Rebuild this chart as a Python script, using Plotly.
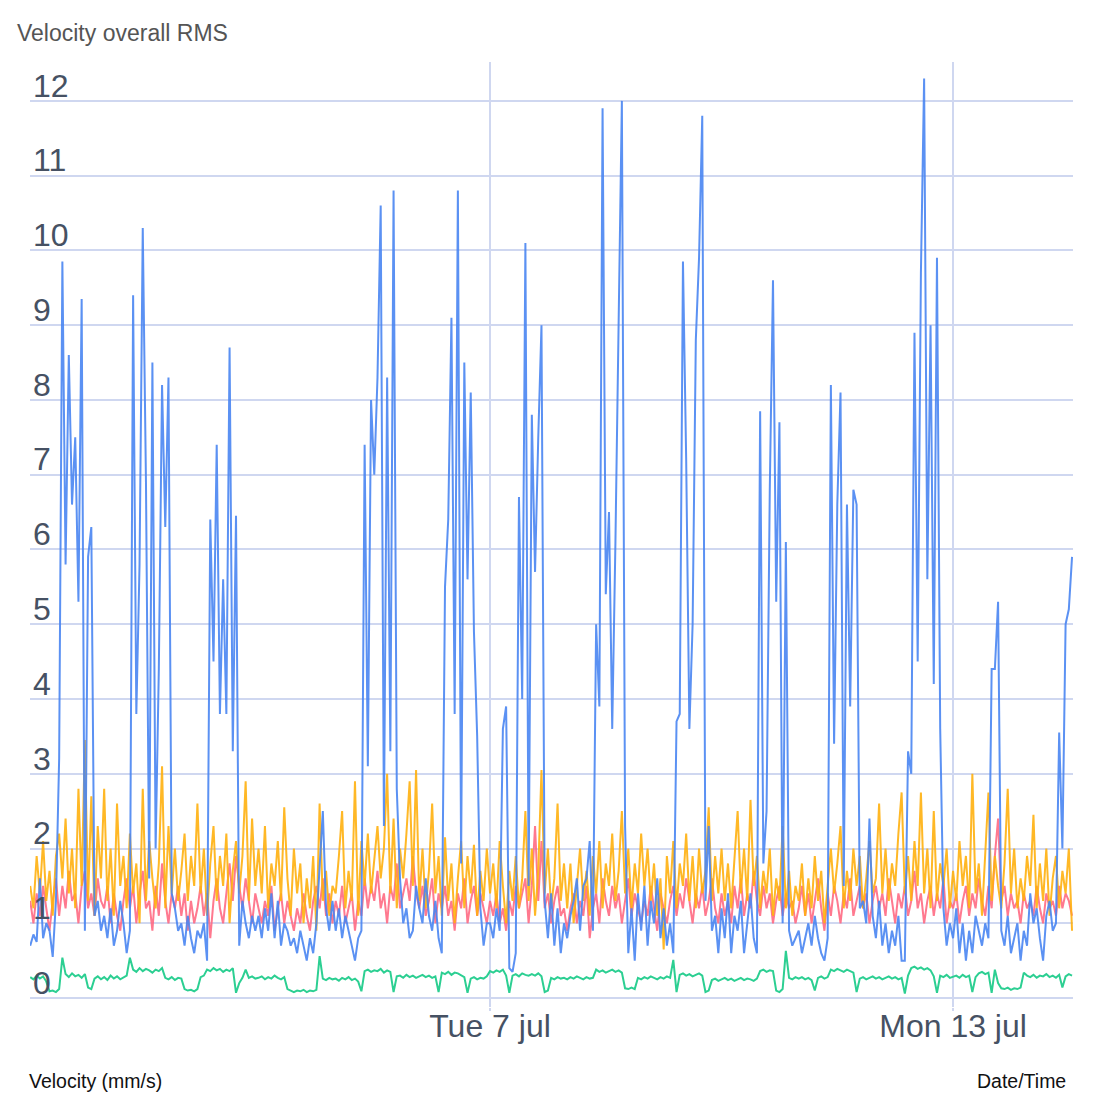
import pandas as pd
import plotly.graph_objects as go

# hourly samples, Jul 1 01:00 -> Jul 14 13:00 (one row per day)
blue = [
    0.7, 0.85, 0.75, 1.6, 0.8, 1.0, 0.9, 0.55, 1.3, 3.2, 9.85, 5.8, 8.6, 6.6, 7.5, 5.3, 9.35, 0.9, 5.9, 6.3, 1.1, 1.3, 0.9,
    1.1, 0.8, 1.2, 0.7, 0.9, 1.3, 1.0, 0.6, 0.9, 9.4, 3.8, 5.8, 10.3, 6.9, 1.6, 8.5, 2.0, 4.4, 8.2, 6.3, 8.3, 1.4, 1.2, 0.9,
    1.0, 0.7, 1.1, 0.8, 0.6, 0.9, 0.8, 1.0, 0.5, 6.4, 4.5, 7.4, 3.8, 5.6, 3.8, 8.7, 3.3, 6.45, 0.7, 1.3, 1.0, 0.8, 1.1, 0.9,
    1.1, 0.8, 1.2, 0.9, 1.4, 0.8, 1.3, 0.7, 1.0, 0.9, 0.7, 0.8, 0.6, 0.9, 0.7, 0.5, 0.8, 0.6, 1.0, 1.8, 2.5, 1.2, 0.9, 1.3,
    0.9, 1.2, 0.8, 1.1, 0.9, 0.7, 0.5, 0.8, 0.9, 7.4, 3.1, 8.0, 7.0, 8.3, 10.6, 2.3, 8.3, 3.3, 10.8, 2.8, 1.6, 1.0, 1.2, 0.8,
    0.9, 1.5, 1.2, 1.0, 1.6, 1.1, 0.9, 1.3, 0.8, 0.6, 5.5, 6.4, 9.1, 3.8, 10.8, 1.8, 8.5, 5.6, 8.1, 4.9, 3.5, 1.2, 0.7, 1.0,
    1.0, 0.8, 1.2, 0.9, 3.6, 3.9, 0.4, 0.35, 0.6, 6.7, 4.0, 10.1, 1.5, 7.8, 5.7, 7.5, 9.0, 1.3, 0.8, 1.4, 0.7, 1.2, 0.6, 1.0,
    0.8, 1.1, 1.3, 1.6, 0.9, 1.5, 1.6, 2.1, 0.9, 5.0, 3.9, 11.9, 5.4, 6.5, 3.6, 6.1, 9.1, 12.0, 2.3, 0.6, 1.2, 0.5, 1.4, 0.9,
    1.5, 0.7, 1.3, 1.0, 1.6, 0.8, 1.2, 0.7, 1.0, 0.6, 3.7, 3.8, 9.85, 7.2, 3.6, 5.0, 8.8, 9.9, 11.8, 1.3, 2.3, 0.9, 1.1, 0.6,
    1.2, 0.8, 1.4, 0.6, 1.1, 0.9, 1.3, 0.6, 1.0, 1.4, 0.8, 0.6, 7.85, 1.8, 2.5, 6.8, 9.6, 5.3, 7.7, 1.0, 6.1, 0.9, 0.7, 0.8,
    0.9, 0.6, 0.8, 1.0, 0.7, 1.1, 0.8, 0.6, 0.5, 0.8, 8.2, 3.4, 6.6, 8.1, 1.5, 6.6, 3.9, 6.8, 6.6, 1.2, 1.3, 1.0, 2.4, 1.1,
    0.8, 1.3, 0.7, 1.0, 0.6, 0.9, 0.7, 1.1, 0.5, 0.5, 3.3, 3.0, 8.9, 4.5, 9.7, 12.3, 5.6, 9.0, 4.2, 9.9, 3.6, 1.2, 0.7, 1.0,
    0.8, 1.2, 0.6, 1.0, 0.5, 0.9, 0.6, 1.1, 0.9, 0.7, 1.0, 0.8, 4.4, 4.4, 5.3, 0.9, 0.7, 1.1, 0.6, 0.8, 1.0, 0.5, 0.9, 0.7,
    1.4, 1.0, 1.2, 0.8, 0.5, 1.1, 1.3, 0.9, 1.0, 3.55, 2.0, 5.0, 5.2, 5.9,
]

orange = [
    1.5, 1.2, 1.9, 1.4, 2.1, 1.3, 1.7, 1.1, 1.9, 2.2, 1.6, 2.4, 1.4, 2.0, 1.2, 2.8, 1.5, 3.45, 1.3, 2.7, 1.1, 2.3, 1.6,
    2.8, 1.3, 2.0, 1.1, 2.6, 1.5, 1.9, 1.2, 2.2, 1.4, 1.8, 1.0, 2.8, 1.3, 2.1, 1.6, 1.2, 1.8, 3.1, 1.2, 2.3, 1.4, 2.0, 1.3,
    1.7, 2.2, 1.3, 1.9, 1.5, 2.6, 1.4, 2.0, 1.1, 1.8, 2.3, 1.3, 1.9, 1.5, 2.2, 1.0, 1.7, 2.1, 1.4, 1.9, 2.9, 1.3, 2.4, 1.5,
    2.0, 1.4, 2.3, 1.2, 1.8, 1.5, 2.1, 1.3, 2.55, 1.6, 1.1, 2.0, 1.4, 1.8, 1.0, 1.6, 1.2, 1.9, 0.9, 2.6, 1.3, 1.7, 1.1, 1.5,
    1.4, 1.9, 2.5, 1.2, 1.7, 1.3, 2.9, 1.1, 2.1, 1.5, 2.2, 1.4, 1.9, 2.3, 1.6, 2.0, 3.0, 1.4, 2.4, 1.2, 2.0, 1.6, 2.2, 2.9,
    1.5, 3.05, 1.3, 2.0, 1.2, 1.7, 2.6, 1.4, 1.9, 1.1, 2.15, 1.3, 1.8, 1.0, 1.6, 2.1, 1.2, 1.9, 1.4, 2.05, 1.1, 1.7, 1.3, 2.0,
    1.4, 1.8, 1.2, 2.1, 1.5, 1.0, 1.7, 1.3, 1.9, 1.2, 1.6, 2.5, 1.3, 2.0, 1.1, 1.7, 3.05, 1.4, 2.0, 1.2, 1.6, 2.6, 1.3, 1.8,
    1.2, 1.8, 1.0, 1.5, 2.0, 1.3, 1.7, 1.1, 1.9, 1.4, 2.1, 1.2, 1.8, 1.5, 2.2, 1.3, 1.7, 2.5, 1.4, 2.0, 1.2, 1.8, 1.4, 2.2,
    1.5, 2.0, 1.3, 1.8, 1.1, 1.6, 0.65, 1.9, 1.4, 2.1, 1.2, 1.8, 1.5, 2.2, 1.3, 1.9, 1.2, 2.0, 1.4, 1.7, 2.55, 1.3, 1.9, 1.4,
    2.0, 1.3, 1.8, 1.2, 1.9, 2.5, 1.4, 2.0, 1.3, 2.65, 1.5, 1.9, 1.2, 1.7, 1.4, 2.0, 1.1, 1.6, 1.3, 2.3, 1.2, 1.7, 1.1, 1.5,
    1.3, 1.8, 1.1, 1.6, 1.2, 1.9, 1.3, 1.7, 1.0, 1.5, 2.0, 1.4, 1.8, 2.3, 1.2, 1.7, 1.3, 2.0, 1.5, 1.9, 1.2, 1.6, 2.1, 1.4,
    1.6, 2.6, 1.4, 2.0, 1.3, 1.8, 1.5, 2.2, 2.75, 1.4, 1.9, 1.3, 2.1, 1.5, 2.75, 1.4, 2.0, 1.2, 2.5, 1.3, 1.8, 1.5, 2.0, 1.2,
    1.7, 1.3, 2.1, 1.5, 1.9, 1.2, 3.0, 1.4, 1.8, 1.1, 2.0, 2.75, 1.3, 1.9, 1.5, 1.2, 1.8, 2.8, 1.4, 2.0, 1.2, 1.6, 1.3, 1.9,
    1.5, 2.45, 1.2, 1.8, 1.3, 2.0, 1.1, 1.6, 1.9, 1.2, 1.7, 1.4, 2.0, 0.9,
]

pink = [
    1.3, 1.0, 1.4, 1.1, 1.5, 1.2, 0.9, 1.3, 1.6, 1.1, 1.5, 1.2, 1.7, 1.3, 1.4, 1.0, 1.5, 1.7, 1.2, 1.4, 1.1, 1.6, 1.3,
    1.2, 1.5, 1.0, 1.4, 1.1, 0.9, 1.3, 1.6, 1.2, 1.5, 1.0, 1.4, 1.7, 1.2, 1.3, 0.9, 1.5, 1.1, 1.8, 1.3, 1.0, 1.4, 1.2, 1.5,
    1.1, 1.4, 0.9, 1.3, 1.0, 1.2, 1.5, 1.1, 1.4, 0.8, 1.3, 1.6, 1.2, 1.0, 1.4, 1.8, 1.3, 1.9, 1.5, 1.2, 1.6, 1.3, 1.0, 1.4,
    1.2, 1.0, 1.3, 1.1, 1.5, 0.9, 1.2, 1.4, 1.0, 1.3, 1.1, 0.9, 1.2, 1.0, 1.4, 1.1, 0.9, 1.3, 1.5, 1.2, 1.6, 1.1, 1.4, 1.0,
    1.3, 1.1, 1.5, 1.0, 1.2, 1.4, 0.9, 1.3, 1.1, 1.6, 1.2, 1.5, 1.3, 1.7, 1.2, 1.4, 1.0, 1.5, 1.3, 1.8, 1.2, 1.4, 1.6, 1.3,
    1.9, 1.4, 1.2, 1.5, 1.1, 1.3, 1.6, 1.0, 1.4, 1.2, 1.5, 1.1, 1.3, 0.9, 1.4, 1.2, 1.6, 1.0, 1.3, 1.5, 1.1, 1.4, 1.2, 1.0,
    1.3, 1.1, 1.4, 1.0, 1.2, 0.9, 1.3, 1.1, 1.5, 1.2, 1.4, 1.6, 1.0, 1.5, 2.3, 1.3, 2.1, 1.2, 1.4, 1.0, 1.3, 1.5, 1.1, 1.2,
    0.9, 1.2, 1.4, 1.0, 1.3, 1.1, 1.5, 0.8, 1.2, 1.4, 1.0, 1.6, 1.3, 1.1, 1.5, 1.2, 1.4, 1.0, 1.3, 1.6, 1.1, 1.4, 1.2, 1.0,
    1.3, 1.1, 1.5, 1.2, 0.9, 1.4, 1.2, 1.0, 1.3, 1.5, 1.1, 1.4, 1.2, 1.6, 1.3, 1.0, 1.4, 1.2, 1.5, 1.1, 1.3, 1.6, 1.2, 1.0,
    1.4, 1.1, 1.3, 1.0, 1.5, 1.2, 1.6, 1.1, 1.4, 1.2, 1.7, 1.3, 1.1, 1.5, 1.2, 1.4, 1.0, 1.3, 1.5, 1.1, 1.4, 1.2, 1.3, 1.0,
    1.2, 1.5, 1.1, 1.4, 1.0, 1.3, 1.6, 1.2, 0.9, 1.4, 1.1, 1.5, 1.3, 1.0, 1.4, 1.2, 1.6, 1.1, 1.3, 1.5, 1.2, 1.4, 1.0, 1.3,
    1.5, 1.2, 1.4, 1.1, 1.6, 1.3, 1.0, 1.4, 1.2, 1.5, 1.1, 1.3, 1.7, 1.2, 1.4, 1.0, 1.3, 1.5, 1.1, 1.4, 1.2, 1.6, 1.0, 1.3,
    1.2, 1.4, 1.0, 1.3, 1.5, 1.1, 1.4, 1.2, 1.6, 1.3, 1.1, 1.5, 1.2, 1.9, 2.4, 1.3, 1.5, 1.1, 1.4, 1.2, 1.3, 1.0, 1.4, 1.2,
    1.3, 1.1, 1.5, 1.2, 1.0, 1.4, 1.2, 1.3, 1.1, 1.5, 1.2, 1.4, 1.3, 1.1,
]

green = [
    0.28, 0.25, 0.3, 0.26, 0.29, 0.22, 0.09, 0.1, 0.08, 0.12, 0.54, 0.32, 0.28, 0.33, 0.29, 0.31, 0.27, 0.32, 0.14, 0.12, 0.26, 0.29, 0.25,
    0.28, 0.24, 0.3, 0.26, 0.29, 0.25, 0.28, 0.3, 0.54, 0.38, 0.35, 0.4, 0.36, 0.39, 0.37, 0.34, 0.38, 0.36, 0.4, 0.27, 0.25, 0.28, 0.24, 0.27,
    0.26, 0.12, 0.1, 0.11, 0.09, 0.12, 0.28, 0.3, 0.38, 0.36, 0.4, 0.37, 0.39, 0.35, 0.38, 0.36, 0.4, 0.07, 0.2, 0.27, 0.38, 0.27, 0.29, 0.26,
    0.27, 0.29, 0.25, 0.28, 0.26, 0.3, 0.27, 0.25, 0.28, 0.12, 0.1, 0.08, 0.1, 0.09, 0.11, 0.08, 0.1, 0.09, 0.11, 0.56, 0.26, 0.24, 0.27, 0.25,
    0.26, 0.23, 0.27, 0.25, 0.28, 0.24, 0.26, 0.22, 0.09, 0.36, 0.38, 0.35, 0.37, 0.36, 0.39, 0.34, 0.37, 0.35, 0.08, 0.29, 0.3, 0.27, 0.31, 0.28,
    0.3, 0.27, 0.29, 0.31, 0.28, 0.3, 0.27, 0.29, 0.08, 0.34, 0.32, 0.35, 0.31, 0.34, 0.33, 0.3, 0.28, 0.07, 0.26, 0.28, 0.25, 0.27, 0.26, 0.29,
    0.36, 0.34, 0.37, 0.35, 0.38, 0.3, 0.07, 0.3, 0.32, 0.29, 0.33, 0.31, 0.3, 0.32, 0.3, 0.33, 0.29, 0.08, 0.1, 0.27, 0.25, 0.28, 0.26, 0.27,
    0.25, 0.28, 0.26, 0.29, 0.27, 0.25, 0.28, 0.26, 0.27, 0.38, 0.35, 0.37, 0.34, 0.36, 0.38, 0.35, 0.37, 0.34, 0.13, 0.12, 0.14, 0.12, 0.27, 0.25,
    0.28, 0.26, 0.29, 0.27, 0.25, 0.28, 0.26, 0.29, 0.27, 0.51, 0.08, 0.31, 0.33, 0.3, 0.32, 0.29, 0.31, 0.33, 0.3, 0.08, 0.1, 0.24, 0.26, 0.23,
    0.25, 0.27, 0.24, 0.26, 0.23, 0.25, 0.27, 0.24, 0.26, 0.25, 0.23, 0.26, 0.36, 0.38, 0.35, 0.37, 0.36, 0.1, 0.08, 0.12, 0.63, 0.27, 0.25, 0.28,
    0.26, 0.28, 0.25, 0.27, 0.24, 0.1, 0.27, 0.29, 0.26, 0.28, 0.38, 0.36, 0.39, 0.37, 0.35, 0.38, 0.36, 0.34, 0.08, 0.26, 0.28, 0.25, 0.27, 0.29,
    0.26, 0.28, 0.25, 0.27, 0.29, 0.26, 0.28, 0.25, 0.27, 0.06, 0.3, 0.4, 0.42, 0.39, 0.41, 0.38, 0.4, 0.37, 0.29, 0.07, 0.3, 0.28, 0.31, 0.27,
    0.29, 0.3, 0.27, 0.31, 0.28, 0.3, 0.08, 0.28, 0.33, 0.35, 0.32, 0.34, 0.07, 0.38, 0.2, 0.13, 0.12, 0.14, 0.11, 0.13, 0.12, 0.14, 0.34, 0.3,
    0.28, 0.31, 0.27, 0.3, 0.29, 0.32, 0.28, 0.3, 0.27, 0.31, 0.14, 0.29, 0.32, 0.3,
]

times = pd.date_range("2020-07-01 01:00", periods=len(blue), freq="h")
tick_vals = ["2020-07-07", "2020-07-13"]
tick_text = ["Tue 7 jul", "Mon 13 jul"]

grid = "#cfd7f0"
label_col = "#465163"
W = H = 1094  # page body has an 8px margin

fig = go.Figure()
fig.add_trace(go.Scatter(x=times, y=pink, mode="lines", line=dict(color="#ff6b83", width=2), opacity=0.9))
fig.add_trace(go.Scatter(x=times, y=orange, mode="lines", line=dict(color="#ffb10f", width=2), opacity=0.9))
fig.add_trace(go.Scatter(x=times, y=blue, mode="lines", line=dict(color="#4a86f2", width=2), opacity=0.9))
fig.add_trace(go.Scatter(x=times, y=green, mode="lines", line=dict(color="#2ccf92", width=2)))

fig.update_layout(
    width=W, height=H,
    margin=dict(l=22, r=29, t=54, b=95),
    paper_bgcolor="white", plot_bgcolor="white",
    showlegend=False,
    font=dict(family="Liberation Sans, Arial, sans-serif"),
    title=dict(text="Velocity overall RMS", x=9 / W, xref="container", xanchor="left",
               y=1 - 25 / H, yanchor="middle", font=dict(size=23, color="#555555")),
)
fig.update_xaxes(
    range=["2020-07-01 00:56", "2020-07-14 13:18"],
    tickvals=tick_vals, ticktext=tick_text,
    showgrid=True, gridcolor=grid, gridwidth=1.5,
    ticks="outside", ticklen=3, tickcolor=grid, tickwidth=1.5,
    ticklabelstandoff=-12,
    tickfont=dict(size=32, color=label_col),
    showline=False, zeroline=False,
)
fig.update_yaxes(
    range=[-0.12, 12.52], dtick=1, tick0=0,
    showgrid=True, gridcolor=grid, gridwidth=1.5,
    ticklabelposition="inside top", ticklabelshift=7,
    tickfont=dict(size=32, color=label_col),
    showline=False, zeroline=False,
)
fig.add_annotation(text="Velocity (mm/s)", xref="paper", yref="paper", x=-0.003, y=-0.078,
                   xanchor="left", yanchor="middle", showarrow=False,
                   font=dict(size=19.5, color="#111111"))
fig.add_annotation(text="Date/Time", xref="paper", yref="paper", x=0.995, y=-0.078,
                   xanchor="right", yanchor="middle", showarrow=False,
                   font=dict(size=19.5, color="#111111"))

fig.write_html("out.html")
